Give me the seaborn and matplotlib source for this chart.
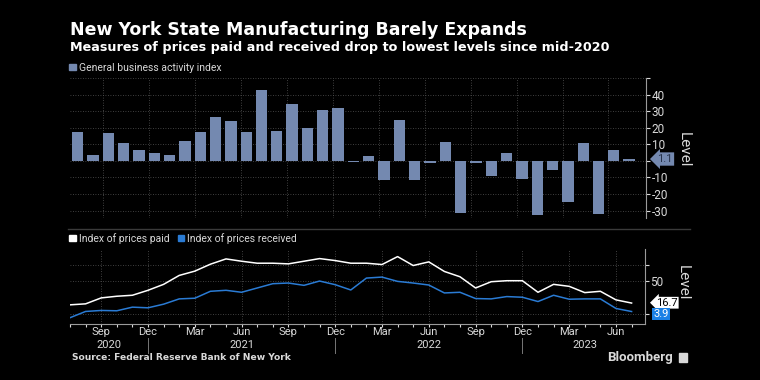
import numpy as np
import pandas as pd
import matplotlib
matplotlib.use("Agg")
import matplotlib.pyplot as plt
import seaborn as sns
from matplotlib.patches import Patch, Rectangle

# monthly data, Jul 2020 - Jul 2023
months = pd.date_range("2020-07-01", "2023-07-01", freq="MS")
business_activity = [17.2, 3.7, 17.0, 10.5, 6.3, 4.9,
                     3.5, 12.1, 17.4, 26.3, 24.3, 17.4, 43.0, 18.3, 34.3, 19.8, 30.9, 31.9,
                     -0.7, 3.1, -11.8, 24.6, -11.6, -1.2, 11.1, -31.3, -1.5, -9.1, 4.5, -11.2,
                     -32.9, -5.8, -24.6, 10.8, -31.8, 6.6, 1.1]
prices_paid = [14, 15.5, 24.5, 27, 28.5, 36,
               45, 58.5, 65, 75.5, 83.5, 80, 77, 77, 76, 80, 84, 81,
               77, 77, 75, 87, 73.5, 79, 64.5, 56.5, 39.5, 49, 50.5, 50.5,
               33, 45, 42, 32.5, 34.5, 21.5, 16.7]
prices_received = [-5.5, 4, 5.5, 5, 10.5, 9.5,
                   15, 23, 24, 34.5, 36, 33, 39.5, 46, 47, 43.5, 50, 44.5,
                   36.5, 54.5, 56, 49.5, 47, 44, 32, 33, 23.5, 23, 26.5, 25.5,
                   19, 28.5, 22.5, 23, 23, 8.5, 3.9]

years = ["2020", "2021", "2022", "2023"]
year_pos = [2.5, 11, 23, 33]

df = pd.DataFrame({"t": np.arange(len(months)), "month": months,
                   "activity": business_activity, "paid": prices_paid,
                   "received": prices_received})

BAR = "#7489b0"
BLUE = "#2a7bd4"
GRID = "#555555"
TXT = "#d9d9d9"
HEAD = ["DejaVu Sans"]

plt.rcParams["font.family"] = ["Roboto", "DejaVu Sans"]
fig = plt.figure(figsize=(7.6, 3.8), dpi=100, facecolor="black")

# ---- top panel: bars
ax1 = fig.add_axes([70 / 760, 1 - 218 / 380, 576 / 760, 140 / 380], facecolor="black")
sns.barplot(data=df, x="t", y="activity", native_scale=True, color=BAR,
            width=0.74, saturation=1, ax=ax1)
ax1.set_xlim(-0.5, 37.1)
ax1.set_ylim(-34.5, 50)
qt = [i for i, m in enumerate(months) if m.month in (3, 6, 9, 12)]
ax1.set_xticks([q - 0.35 for q in qt])
ax1.tick_params(axis="x", length=0, labelbottom=False)
ax1.yaxis.tick_right()
ax1.set_yticks([50, 40, 30, 20, 10, 0, -10, -20, -30])
ax1.set_yticklabels(["", "40", "30", "20", "10", "", "-10", "-20", "-30"])
ax1.tick_params(axis="y", colors=TXT, labelsize=8.5, length=3, width=0.8, pad=1)
ax1.grid(True, color=GRID, linestyle=(0, (1, 2)), linewidth=0.6)
ax1.set_axisbelow(True)
for s in ["top", "left", "bottom"]:
    ax1.spines[s].set_visible(False)
ax1.spines["right"].set_color("#9a9a9a")
ax1.set_xlabel("")
ax1.set_ylabel("")
ax1.text(1.065, 0.49, "Level", transform=ax1.transAxes, rotation=270,
         ha="center", va="center", color=TXT, fontsize=11)
ax1.annotate(f"{business_activity[-1]:.1f}", xy=(1.0, business_activity[-1]),
             xycoords=("axes fraction", "data"), xytext=(8, 0), textcoords="offset points",
             ha="left", va="center", fontsize=8, color="#26324a",
             bbox=dict(boxstyle="larrow,pad=0.15", fc=BAR, ec="none"),
             annotation_clip=False)
ax1.legend(handles=[Patch(color=BAR, label="General business activity index")],
           loc="lower left", bbox_to_anchor=(-0.01, 1.0), frameon=False,
           handlelength=0.6, handleheight=0.6, handletextpad=0.3,
           fontsize=7.5, labelcolor=TXT, borderaxespad=0.1)

# separator line between panels
fig.add_artist(plt.Line2D([68 / 760, 690 / 760], [1 - 229 / 380] * 2,
                          color="#3a3a3a", linewidth=1))

# ---- bottom panel: lines
ax2 = fig.add_axes([70 / 760, 1 - 324 / 380, 575 / 760, 75 / 380], facecolor="black")
sns.lineplot(data=df, x="t", y="paid", color="white", linewidth=1.1, ax=ax2)
sns.lineplot(data=df, x="t", y="received", color=BLUE, linewidth=1.1, ax=ax2)
ax2.set_xlim(0, 36.86)
ax2.set_ylim(-15, 98.5)
ax2.set_xticks(qt)
ax2.set_xticklabels([m.strftime("%b") for m in months[qt]])
ax2.set_xticks(df["t"], minor=True)
ax2.tick_params(axis="x", which="both", colors=TXT, labelsize=8, length=2.5,
                width=0.8, pad=0)
ax2.yaxis.tick_right()
ax2.set_yticks([0, 50, 75])
ax2.set_yticklabels(["", "50", ""])
ax2.tick_params(axis="y", colors=TXT, labelsize=8.5, length=3, width=0.8, pad=1)
ax2.grid(True, color=GRID, linestyle=(0, (1, 2)), linewidth=0.6)
ax2.set_axisbelow(True)
for s in ["top", "left"]:
    ax2.spines[s].set_visible(False)
for s in ["right", "bottom"]:
    ax2.spines[s].set_color("#9a9a9a")
ax2.set_xlabel("")
ax2.set_ylabel("")
ax2.text(1.065, 0.55, "Level", transform=ax2.transAxes, rotation=270,
         ha="center", va="center", color=TXT, fontsize=11)
ax2.annotate(f"{prices_paid[-1]:.1f}", xy=(1.0, prices_paid[-1] + 0.5),
             xycoords=("axes fraction", "data"), xytext=(8, 0), textcoords="offset points",
             ha="left", va="center", fontsize=8, color="black",
             bbox=dict(boxstyle="larrow,pad=0.08", fc="white", ec="none"),
             annotation_clip=False)
ax2.annotate(f"{prices_received[-1]:.1f}", xy=(1.0, prices_received[-1] - 3.5),
             xycoords=("axes fraction", "data"), xytext=(6, 0), textcoords="offset points",
             ha="left", va="center", fontsize=8, color="white",
             bbox=dict(boxstyle="square,pad=0.08", fc="#1a80e6", ec="none"),
             annotation_clip=False)
ax2.legend(handles=[Patch(color="white", label="Index of prices paid"),
                    Patch(color=BLUE, label="Index of prices received")],
           loc="lower left", bbox_to_anchor=(-0.01, 1.0), frameon=False, ncol=2,
           handlelength=0.6, handleheight=0.6, handletextpad=0.3, columnspacing=0.8,
           fontsize=7.5, labelcolor=TXT, borderaxespad=0.1)

# year labels and separators
for yr, pos in zip(years, year_pos):
    ax2.text(pos, -0.28, yr, transform=ax2.get_xaxis_transform(), ha="center",
             va="center", color=TXT, fontsize=8)
for i, m in enumerate(months):
    if m.month == 12:
        ax2.plot([i, i], [-0.18, -0.38], transform=ax2.get_xaxis_transform(),
                 color="#777777", linewidth=0.7, clip_on=False)

# titles and footer
fig.text(70 / 760, 1 - 35 / 380, "New York State Manufacturing Barely Expands",
         color="white", fontsize=12.5, fontweight="bold", va="baseline", family=HEAD)
fig.text(70 / 760, 1 - 50.5 / 380,
         "Measures of prices paid and received drop to lowest levels since mid-2020",
         color="white", fontsize=9.2, fontweight="bold", va="baseline", family=HEAD)
fig.text(72 / 760, 1 - 357.5 / 380, "Source: Federal Reserve Bank of New York",
         color=TXT, fontsize=6.6, fontweight="bold", va="center", family=HEAD)
fig.text(673 / 760, 1 - 357 / 380, "Bloomberg", color=TXT, fontsize=9.5,
         fontweight="bold", va="center", ha="right")
fig.add_artist(Rectangle((679 / 760, 1 - 362 / 380), 8 / 760, 9 / 380,
                         color=TXT, transform=fig.transFigure))

fig.savefig("out.png", dpi=100, facecolor="black")
